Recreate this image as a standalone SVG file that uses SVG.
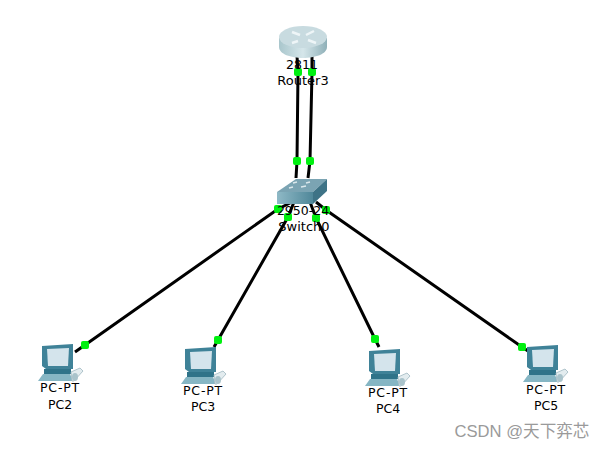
<svg xmlns="http://www.w3.org/2000/svg" width="606" height="450" viewBox="0 0 606 450">
<style>
.t{font-family:"DejaVu Sans",Verdana,sans-serif;font-size:12.5px;fill:#000;text-anchor:middle}
.p{letter-spacing:.8px}
.w2{font-size:13px}
.w{font-family:"Liberation Sans",Arial,"Noto Sans CJK SC",sans-serif;font-size:16.6px;fill:#9a9a9a;text-anchor:middle}
.l{stroke:#000;stroke-width:3;fill:none}
.g{fill:#00f010}
</style>
<defs>
<linearGradient id="rt" x1="0" y1="0" x2="1" y2="0"><stop offset="0" stop-color="#a9c6cc"/><stop offset=".5" stop-color="#d5e6ea"/><stop offset="1" stop-color="#8fb0b8"/></linearGradient>
<linearGradient id="sw" x1="0" y1="0" x2="1" y2="0"><stop offset="0" stop-color="#8fb9c6"/><stop offset="1" stop-color="#4f8799"/></linearGradient>
<g id="pc">
<path d="M4 2 L35 0 L35 25 L8 25 L4 22 Z" fill="#3f8298"/>
<path d="M9 5 L31 4 L30 22 L10 22 Z" fill="#d4e4ec"/>
<path d="M6 25 H33 V30 H6 Z" fill="#2f7389"/>
<path d="M5 30 H32 L35 37 H0 Z" fill="#86b6c4"/>
<path d="M33 28 L42 24 L45 27 L36 37 H34 Z" fill="#e3ecef" stroke="#9fb8c0" stroke-width=".8"/>
<ellipse cx="37" cy="33" rx="3" ry="4" fill="#a9c3cb"/>
</g>
<rect id="d" class="g" x="-4" y="-4" width="8" height="8" rx="2"/>
</defs>
<g id="connectors">
<path class="l" d="M297 56 L298 72 L297 161 L296 178"/>
<path class="l" d="M312 56 L312 72 L310 161 L308 178"/>
<path class="l" d="M292 202 L278 209 L85 345 L75 352"/>
<path class="l" d="M294 202 L288 217 L218 340 L214 347"/>
<path class="l" d="M310 202 L316 218 L375 339 L379 347"/>
<path class="l" d="M316 202 L326 210 L522 347 L531 353"/>
<use href="#d" x="298" y="72"/><use href="#d" x="312" y="72"/>
<use href="#d" x="297" y="161"/><use href="#d" x="310" y="161"/>
<use href="#d" x="278" y="209"/><use href="#d" x="288" y="217"/>
<use href="#d" x="316" y="218"/><use href="#d" x="326" y="210"/>
<use href="#d" x="85" y="345"/><use href="#d" x="218" y="340"/>
<use href="#d" x="375" y="339"/><use href="#d" x="522" y="347"/>
</g>
<g id="router3">
<path d="M279 38 V47 C279 54 291 58 303 58 C315 58 327 54 327 47 V38 Z" fill="url(#rt)"/>
<ellipse cx="303" cy="37" rx="24" ry="11" fill="#c8dbe0"/>
<path d="M292 32 L300 35 M314 31 L306 35 M298 41 L292 43 M308 40 L316 43" stroke="#eef5f7" stroke-width="2.5" fill="none"/>
<text class="t" x="302" y="69">2811</text>
<text class="t w2" x="303" y="85">Router3</text>
</g>
<g id="switch0">
<path d="M277 192 L296 179 L327 179 L313 192 Z" fill="#7ba4b3"/>
<path d="M277 192 H313 V204 H277 Z" fill="url(#sw)"/>
<path d="M313 192 L327 179 V191 L313 204 Z" fill="#3e7386"/>
<path d="M289 188 L293 187 M301 187 L306 186 M293 183 L297 182 M306 183 L310 182" stroke="#dbe8ec" stroke-width="1.5"/>
<text class="t" x="303" y="215">2950-24</text>
<text class="t w2" x="304" y="231">Switch0</text>
</g>
<g id="pc2"><use href="#pc" x="38" y="344"/><text class="t p" x="60" y="392">PC-PT</text><text class="t" x="60" y="409">PC2</text></g>
<g id="pc3"><use href="#pc" x="181" y="347"/><text class="t p" x="203" y="395">PC-PT</text><text class="t" x="203" y="411">PC3</text></g>
<g id="pc4"><use href="#pc" x="365" y="349"/><text class="t p" x="388" y="397">PC-PT</text><text class="t" x="388" y="413">PC4</text></g>
<g id="pc5"><use href="#pc" x="523" y="345"/><text class="t p" x="546" y="394">PC-PT</text><text class="t" x="546" y="410">PC5</text></g>
<text class="w" x="522" y="437">CSDN @天下弈芯</text>
</svg>
